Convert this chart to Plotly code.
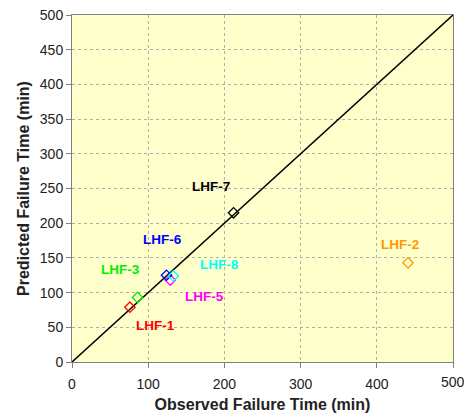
import plotly.graph_objects as go

names = ["LHF-1", "LHF-2", "LHF-3", "LHF-5", "LHF-6", "LHF-7", "LHF-8"]
observed = [76, 441, 86, 129, 124, 212, 133]
predicted = [79, 143, 93, 118, 125, 215, 124]
colors = ["#FF0000", "#FF9900", "#00EE00", "#FF00FF", "#0000FF", "#000000", "#00FFFF"]
label_x = [109, 430, 63, 174, 119, 183, 194]
label_y = [53, 170, 134, 95, 176, 253, 140]
diag = [0, 500]
x_ticks = [0, 100, 200, 300, 400, 500]

FONT = "Arial, Liberation Sans"
fig = go.Figure()
fig.add_trace(go.Scatter(x=diag, y=diag, mode="lines",
                         line=dict(color="black", width=1.5), showlegend=False, hoverinfo="skip"))
for n, ox, py, c in zip(names, observed, predicted, colors):
    fig.add_trace(go.Scatter(x=[ox], y=[py], mode="markers", name=n, showlegend=False,
                             marker=dict(symbol="diamond-open", size=8, color=c, line=dict(width=1.3, color=c))))
for n, lx, ly, c in zip(names, label_x, label_y, colors):
    fig.add_annotation(x=lx, y=ly, text="<b>%s</b>" % n, showarrow=False,
                       font=dict(family=FONT, size=13.5, color=c))
# last x tick label (plotly drops it because it overflows the paper edge)
fig.add_annotation(x=x_ticks[-1], y=0, yref="y", text=str(x_ticks[-1]), showarrow=False,
                   yanchor="top", yshift=-10, xanchor="center",
                   font=dict(family=FONT, size=14, color="#222222"))

axis_common = dict(range=[0, 500], showgrid=True, gridcolor="#B0B0B0", griddash="dot",
                   gridwidth=1, zeroline=False, showline=True, linecolor="#808080", linewidth=1,
                   mirror=True, ticks="outside", ticklen=5, tickcolor="#808080", automargin=False,
                   tickfont=dict(family=FONT, size=14, color="#222222"))
fig.update_xaxes(**axis_common, tickvals=x_ticks, ticklabelstandoff=4,
                 title=dict(text="<b>Observed Failure Time (min)</b>",
                            font=dict(family=FONT, size=16, color="#222222"), standoff=8))
fig.update_yaxes(**axis_common, dtick=50, title=dict(text="<b>Predicted Failure Time (min)</b>",
                 font=dict(family=FONT, size=16, color="#222222"), standoff=6))
fig.update_layout(width=464, height=416, margin=dict(l=72, r=11, t=15, b=54),
                  plot_bgcolor="#FFFFCC", paper_bgcolor="white")
fig.write_html("out.html", config={"displayModeBar": False},
               post_script="document.body.style.margin='0';")
